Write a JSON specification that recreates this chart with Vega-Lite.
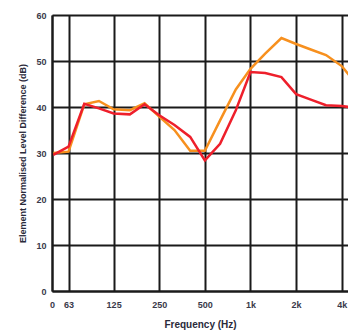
{
  "$schema": "https://vega.github.io/schema/vega-lite/v6.json",
  "autosize": "none",
  "padding": {"left": 52, "top": 15, "right": 0, "bottom": 42},
  "width": 296,
  "height": 276,
  "background": "white",
  "config": {
    "view": {"stroke": null},
    "font": "Liberation Sans"
  },
  "data": {
    "values": [
      {"freq": 50, "series": "A", "dB": 30.0},
      {"freq": 63, "series": "A", "dB": 30.3},
      {"freq": 80, "series": "A", "dB": 40.6},
      {"freq": 100, "series": "A", "dB": 41.3},
      {"freq": 125, "series": "A", "dB": 39.5},
      {"freq": 160, "series": "A", "dB": 39.3},
      {"freq": 200, "series": "A", "dB": 40.8},
      {"freq": 250, "series": "A", "dB": 37.9},
      {"freq": 315, "series": "A", "dB": 35.0},
      {"freq": 400, "series": "A", "dB": 30.5},
      {"freq": 500, "series": "A", "dB": 30.5},
      {"freq": 630, "series": "A", "dB": 37.1},
      {"freq": 800, "series": "A", "dB": 43.8},
      {"freq": 1000, "series": "A", "dB": 48.3},
      {"freq": 1250, "series": "A", "dB": 51.6},
      {"freq": 1600, "series": "A", "dB": 55.0},
      {"freq": 2000, "series": "A", "dB": 53.7},
      {"freq": 2500, "series": "A", "dB": 52.5},
      {"freq": 3150, "series": "A", "dB": 51.3},
      {"freq": 4000, "series": "A", "dB": 48.9},
      {"freq": 5000, "series": "A", "dB": 45.0},
      {"freq": 50, "series": "B", "dB": 29.6},
      {"freq": 63, "series": "B", "dB": 31.4},
      {"freq": 80, "series": "B", "dB": 40.7},
      {"freq": 100, "series": "B", "dB": 39.7},
      {"freq": 125, "series": "B", "dB": 38.6},
      {"freq": 160, "series": "B", "dB": 38.4},
      {"freq": 200, "series": "B", "dB": 40.6},
      {"freq": 250, "series": "B", "dB": 38.2},
      {"freq": 315, "series": "B", "dB": 36.1},
      {"freq": 400, "series": "B", "dB": 33.5},
      {"freq": 500, "series": "B", "dB": 28.4},
      {"freq": 630, "series": "B", "dB": 32.0},
      {"freq": 800, "series": "B", "dB": 39.3},
      {"freq": 1000, "series": "B", "dB": 47.6},
      {"freq": 1250, "series": "B", "dB": 47.4},
      {"freq": 1600, "series": "B", "dB": 46.5},
      {"freq": 2000, "series": "B", "dB": 42.8},
      {"freq": 2500, "series": "B", "dB": 41.6},
      {"freq": 3150, "series": "B", "dB": 40.4},
      {"freq": 4000, "series": "B", "dB": 40.2},
      {"freq": 5000, "series": "B", "dB": 39.8}
    ]
  },
  "mark": {"type": "line", "strokeWidth": 2.5, "clip": true},
  "encoding": {
    "x": {
      "field": "freq",
      "type": "quantitative",
      "scale": {"type": "log", "domain": [49, 4400], "nice": false},
      "axis": {
        "values": [49, 63, 125, 250, 500, 1000, 2000, 4000],
        "labelExpr": "datum.value < 55 ? '0' : datum.value >= 1000 ? (datum.value / 1000) + 'k' : datum.label",
        "title": "Frequency (Hz)",
        "titleFontSize": 10,
        "titleFontWeight": "bold",
        "titleColor": "#2a2a3a",
        "titlePadding": 10,
        "labelFontSize": 9,
        "labelFontWeight": "bold",
        "labelColor": "#3a3a4a",
        "labelPadding": 9,
        "labelFlush": false,
        "labelOverlap": false,
        "ticks": false,
        "domainColor": "#1a1a1a",
        "domainWidth": 2,
        "grid": true,
        "gridColor": "#1a1a1a",
        "gridWidth": 2,
        "gridOpacity": 1
      }
    },
    "y": {
      "field": "dB",
      "type": "quantitative",
      "scale": {"domain": [0, 60], "nice": false},
      "axis": {
        "values": [0, 10, 20, 30, 40, 50, 60],
        "title": "Element Normalised Level Difference (dB)",
        "titleFontSize": 9,
        "titleFontWeight": "bold",
        "titleColor": "#2a2a3a",
        "titlePadding": 8,
        "labelFontSize": 9,
        "labelFontWeight": "bold",
        "labelColor": "#3a3a4a",
        "labelPadding": 6,
        "labelFlush": false,
        "ticks": false,
        "domainColor": "#1a1a1a",
        "domainWidth": 2,
        "grid": true,
        "gridColor": "#1a1a1a",
        "gridWidth": 2,
        "gridOpacity": 1
      }
    },
    "color": {
      "field": "series",
      "type": "nominal",
      "scale": {"domain": ["A", "B"], "range": ["#f7901e", "#ee1f2b"]},
      "legend": null
    }
  }
}
